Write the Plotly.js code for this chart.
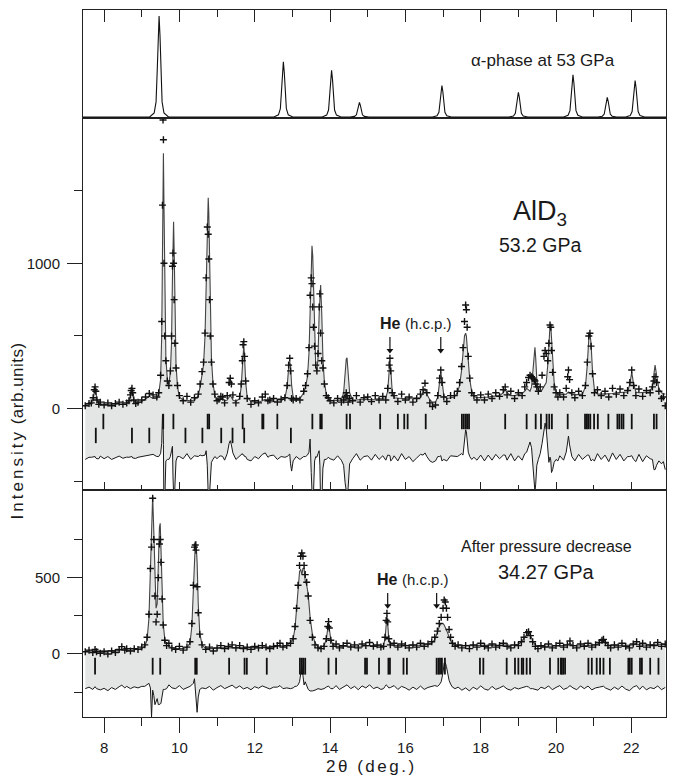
<!DOCTYPE html>
<html><head><meta charset="utf-8">
<script src="https://cdn.plot.ly/plotly-3.0.1.min.js"></script>
<style>html,body{margin:0;padding:0;background:#fff;} #chart{width:674px;height:781px;}</style>
</head><body><div id="chart"></div>
<script>
// ---------- DATA ----------
// Top panel: calculated alpha-phase pattern at 53 GPa (normalised intensity)
const topX = [7.44,
 9.21,9.33,9.38,9.41,9.435,9.46,9.485,9.51,9.54,9.59,9.71,
 12.51,12.63,12.68,12.71,12.735,12.76,12.785,12.81,12.84,12.89,13.01,
 13.79,13.91,13.96,13.99,14.015,14.04,14.065,14.09,14.12,14.17,14.29,
 14.53,14.65,14.70,14.73,14.755,14.78,14.805,14.83,14.86,14.91,15.03,
 16.72,16.84,16.89,16.92,16.945,16.97,16.995,17.02,17.05,17.10,17.22,
 18.75,18.87,18.92,18.95,18.975,19.0,19.025,19.05,19.08,19.13,19.25,
 20.20,20.32,20.37,20.40,20.425,20.45,20.475,20.50,20.53,20.58,20.70,
 21.11,21.23,21.28,21.31,21.335,21.36,21.385,21.41,21.44,21.49,21.61,
 21.85,21.97,22.02,22.05,22.075,22.1,22.125,22.15,22.18,22.23,22.35,
 22.92];
const topY = [0,
 0,0.04,0.15,0.45,0.8,1.0,0.8,0.45,0.15,0.04,0,
 0,0.022,0.082,0.246,0.438,0.547,0.438,0.246,0.082,0.022,0,
 0,0.019,0.069,0.208,0.37,0.463,0.37,0.208,0.069,0.019,0,
 0,0.006,0.022,0.065,0.115,0.144,0.115,0.065,0.022,0.006,0,
 0,0.012,0.047,0.14,0.25,0.312,0.25,0.14,0.047,0.012,0,
 0,0.01,0.037,0.11,0.196,0.245,0.196,0.11,0.037,0.01,0,
 0,0.017,0.063,0.189,0.335,0.419,0.335,0.189,0.063,0.017,0,
 0,0.008,0.029,0.088,0.156,0.195,0.156,0.088,0.029,0.008,0,
 0,0.014,0.054,0.163,0.29,0.362,0.29,0.163,0.054,0.014,0,
 0];

// Middle panel: AlD3 at 53.2 GPa
const midX = [
7.5,7.6,7.66,7.71,7.74,7.76,7.78,7.81,7.86,7.9,8.0,8.1,8.2,8.3,8.4,8.5,8.6,8.66,8.7,8.72,8.74,8.76,8.79,8.84,8.9,9.0,9.1,9.2,9.3,9.4,
9.45,9.5,9.53,9.55,9.565,9.575,9.59,9.61,9.64,9.68,9.72,9.76,9.79,9.815,9.83,9.845,9.86,9.88,9.91,9.95,10.0,
10.1,10.2,10.3,10.4,10.5,10.55,10.6,10.64,10.68,10.71,10.74,10.765,10.78,10.8,10.82,10.85,10.89,10.94,11.0,
11.05,11.1,11.15,11.2,11.27,11.32,11.35,11.38,11.42,11.5,11.6,11.64,11.67,11.69,11.71,11.73,11.76,11.8,11.9,12.0,12.1,12.2,12.28,12.35,12.4,
12.5,12.6,12.7,12.8,12.86,12.9,12.93,12.95,12.98,13.02,13.1,13.2,13.3,
13.35,13.4,13.44,13.47,13.5,13.52,13.54,13.56,13.59,13.62,13.65,13.68,13.71,13.73,13.75,13.78,13.81,13.85,13.9,13.95,14.0,
14.1,14.2,14.3,14.36,14.4,14.43,14.45,14.48,14.52,14.6,14.7,14.8,14.9,15.0,15.1,15.2,15.3,15.4,
15.48,15.53,15.57,15.59,15.61,15.65,15.7,15.8,15.9,16.0,16.1,16.2,16.3,16.4,16.47,16.52,16.57,16.65,16.72,16.8,16.86,16.91,16.94,16.97,17.02,17.1,17.2,
17.3,17.38,17.44,17.49,17.53,17.57,17.6,17.62,17.64,17.67,17.71,17.76,17.82,17.9,18.0,
18.1,18.2,18.3,18.4,18.5,18.6,18.65,18.7,18.8,18.9,19.0,19.1,19.17,
19.22,19.27,19.31,19.35,19.39,19.42,19.44,19.46,19.49,19.53,19.58,19.63,19.68,19.71,19.74,19.78,19.81,19.84,19.86,19.88,19.91,19.95,20.0,20.05,20.1,
20.2,20.27,20.31,20.33,20.36,20.42,20.5,20.6,20.7,20.78,20.83,20.87,20.9,20.93,20.97,21.02,21.1,21.2,
21.3,21.4,21.5,21.6,21.7,21.8,21.9,21.96,22.01,22.06,22.12,22.2,22.3,22.4,22.5,22.56,22.6,22.63,22.67,22.73,22.8,22.85,22.9];
const midObs = [
20,35,40,75,130,150,120,60,30,45,25,40,20,35,45,30,40,55,95,125,140,110,60,35,45,60,80,105,95,80,
110,230,600,1400,1985,1850,1000,500,330,190,160,260,500,980,1070,1000,750,450,280,160,90,
55,85,45,75,100,170,255,320,520,900,1250,1200,1030,750,500,320,170,100,55,
65,85,80,40,90,180,209,170,95,40,85,170,330,440,461,360,190,70,30,55,40,80,100,55,60,
70,45,65,75,160,300,347,260,70,60,70,60,120,
160,240,420,780,900,860,700,560,430,300,260,380,700,790,520,330,280,170,90,75,55,
40,70,45,60,80,110,90,45,70,55,90,45,75,80,50,90,60,85,
60,140,300,347,260,110,90,50,100,60,80,45,70,100,130,175,110,40,15,25,90,210,266,180,80,50,90,
90,120,180,290,420,600,713,680,560,360,210,110,90,60,95,
60,100,70,110,85,130,150,95,120,70,110,90,150,
180,215,230,220,210,200,190,170,150,120,150,230,360,400,380,330,450,576,560,400,250,150,110,80,110,
80,140,220,266,200,110,75,120,90,160,320,500,519,430,240,110,130,90,
120,80,140,100,135,90,125,180,266,160,90,135,85,125,110,150,190,220,180,120,70,80,20];
const midCalc = [
30,30,35,70,125,140,120,65,35,32,30,30,30,32,32,32,34,50,90,120,130,110,60,38,40,50,70,85,70,70,
100,200,500,1100,1700,1757,1400,800,350,200,170,250,450,900,1200,1286,1100,650,300,150,80,
60,55,55,60,90,150,240,300,500,850,1300,1451,1350,1000,650,350,180,90,60,
55,70,70,55,60,80,90,80,60,50,70,150,300,420,440,350,180,80,50,45,45,55,65,50,45,
50,55,55,70,150,280,320,300,160,80,60,70,110,
150,220,380,650,1000,1120,1050,800,450,290,255,350,650,840,851,650,350,180,100,70,60,
55,55,60,110,250,340,350,250,110,60,60,60,65,65,65,65,70,70,
75,120,280,330,280,120,75,70,70,70,70,70,70,75,110,140,100,60,45,45,80,200,250,200,90,70,75,
80,110,160,260,400,500,519,500,430,320,200,120,85,75,75,
80,80,85,85,90,110,130,110,90,90,95,105,120,
140,130,120,150,280,400,422,350,200,130,120,130,150,160,180,300,480,570,574,500,330,180,120,100,95,
95,100,110,115,110,100,95,95,100,150,300,480,519,450,250,130,100,100,
100,105,105,110,110,110,115,170,250,170,115,110,110,110,115,160,270,300,230,140,110,105,100];
const midTicksA = [7.98,9.57,9.84,10.75,10.79,11.68,12.20,12.23,12.60,13.53,13.74,13.78,14.44,14.53,15.33,15.80,15.97,16.06,16.54,17.50,17.55,17.60,17.64,17.69,18.65,19.22,19.46,19.60,19.75,19.82,19.89,20.31,20.77,20.82,20.86,20.91,21.01,21.11,21.39,21.63,21.68,21.74,21.79,22.01,22.60,22.67];
const midTicksB = [7.78,8.74,9.20,10.16,10.61,11.11,11.41,11.72,12.96];
const midHeArrows = [15.59, 16.94];

// Bottom panel: after pressure decrease, 34.27 GPa
const botX = [
7.5,7.6,7.7,7.76,7.8,7.9,8.0,8.1,8.2,8.3,8.4,8.47,8.55,8.6,8.7,8.8,8.9,9.0,
9.08,9.14,9.19,9.23,9.26,9.29,9.32,9.35,9.38,9.41,9.44,9.47,9.49,9.51,9.54,9.57,9.61,9.66,
9.72,9.8,9.9,10.0,10.1,10.2,10.28,10.33,10.37,10.4,10.42,10.44,10.47,10.5,10.54,10.6,10.7,
10.8,10.9,11.0,11.1,11.2,11.3,11.4,11.5,11.6,11.7,11.8,11.9,12.0,12.1,12.2,12.3,12.4,12.5,12.6,12.67,12.75,12.85,12.95,
13.02,13.07,13.11,13.15,13.19,13.22,13.25,13.28,13.31,13.34,13.38,13.42,13.47,13.53,13.6,13.68,
13.76,13.84,13.9,13.94,13.96,13.98,14.02,14.08,14.16,14.25,14.35,14.45,14.55,14.65,14.75,14.85,14.95,15.05,15.15,15.25,15.35,
15.42,15.46,15.49,15.51,15.53,15.56,15.6,15.7,15.8,15.9,16.0,
16.1,16.2,16.3,16.4,16.5,16.6,16.7,16.78,16.85,16.9,16.95,17.0,17.03,17.06,17.09,17.12,17.16,17.2,17.25,17.32,17.4,17.5,
17.6,17.7,17.8,17.9,18.0,18.1,18.2,18.3,18.4,18.5,18.6,18.7,18.8,18.9,19.0,19.08,19.15,19.22,19.27,19.32,19.38,19.45,19.52,19.6,
19.7,19.8,19.9,20.0,20.1,20.2,20.3,20.37,20.45,20.55,20.65,20.75,20.85,20.95,21.05,21.15,21.22,21.26,21.31,21.38,21.45,21.55,21.65,21.75,21.85,21.95,22.05,22.14,22.22,22.3,22.4,22.5,22.6,22.7,22.8,22.9];
const botObs = [
15,25,10,30,15,5,15,0,20,10,30,48,25,35,20,35,30,45,
60,110,260,560,700,1020,750,380,210,260,500,720,750,600,360,190,90,55,
70,40,30,50,25,45,80,200,450,700,714,680,440,270,130,60,30,
45,20,40,55,35,50,60,40,55,35,45,30,50,40,55,45,35,50,55,70,45,55,70,
100,180,300,450,580,640,661,640,580,520,470,380,220,110,60,40,
35,50,100,180,212,170,90,50,65,40,55,70,45,60,40,65,55,75,50,60,45,
50,110,220,266,210,100,60,70,45,65,55,
40,60,45,70,50,65,80,110,150,200,240,300,354,340,300,240,160,110,70,50,60,40,
55,35,60,45,70,50,40,65,45,55,70,50,40,60,55,80,110,140,146,120,80,50,35,55,
45,65,40,55,70,45,60,85,55,40,65,50,70,45,60,75,90,96,75,55,40,60,45,70,50,40,65,80,50,70,45,60,55,75,50,65];
const botCalc = [
20,20,20,22,20,18,18,18,18,20,22,30,25,25,25,28,30,35,
50,90,230,560,890,1035,800,490,300,330,610,830,856,700,400,200,100,60,
50,40,35,35,35,45,70,180,420,640,714,740,600,330,140,60,35,
35,35,38,40,40,42,42,42,42,42,42,42,42,42,42,42,42,45,50,55,50,55,75,
100,170,290,430,540,555,520,560,561,480,450,390,240,130,75,45,
45,55,95,170,200,165,95,55,50,50,50,50,50,50,52,52,55,55,55,55,55,
55,100,200,250,200,100,58,55,55,55,55,
55,55,55,58,60,62,70,95,140,180,200,200,190,175,160,140,110,85,65,55,55,55,
55,55,55,55,57,57,55,55,55,55,57,57,55,58,62,80,105,130,140,125,85,60,50,50,
50,52,52,52,55,55,60,70,55,52,52,55,58,58,60,70,80,85,75,60,55,55,55,58,58,58,60,65,60,58,58,58,60,62,62,62];
const botTicks = [7.76,9.29,9.49,10.42,10.46,11.32,11.73,11.79,12.32,13.20,13.25,13.29,13.34,13.96,14.16,14.93,14.98,15.30,15.55,15.59,15.95,16.04,16.83,16.88,16.92,16.97,17.05,17.98,18.07,18.69,18.91,19.00,19.09,19.13,19.22,19.31,19.84,20.06,20.13,20.15,20.19,20.24,20.86,20.95,21.08,21.17,21.26,21.43,21.92,21.96,22.01,22.23,22.28,22.50,22.72];
const botHeArrows = [15.53, 16.83];

// ---------- PLACEMENT CONSTANTS ----------
const MID_DIFF_OFFSET = -339, BOT_DIFF_OFFSET = -222;
const MID_ROW_A = -88, MID_ROW_B = -184, BOT_ROW = -80;
const MID_ARROW = [493, 400], BOT_ARROW = [400, 316]; // tail, head (axis units)
const XR = [7.44, 22.92];
const FONT = 'Liberation Sans, Arial, Helvetica, sans-serif';
const INK = '#1a1a1a';

function panel(xa, ya, xs, obs, calc, off) {
  const diff = obs.map((o, i) => o - calc[i] + off);
  return [
    {x: xs, y: calc, xaxis: xa, yaxis: ya, type: 'scatter', mode: 'lines',
     line: {color: '#444', width: 1.1}, hoverinfo: 'skip'},
    {x: xs, y: diff, xaxis: xa, yaxis: ya, type: 'scatter', mode: 'lines',
     line: {color: INK, width: 1}, fill: 'tonexty', fillcolor: '#e4e5e5', hoverinfo: 'skip'},
    {x: xs, y: obs, xaxis: xa, yaxis: ya, type: 'scatter', mode: 'markers',
     marker: {symbol: 'cross-thin', size: 5, color: '#111', line: {color: '#111', width: 1.4}}, hoverinfo: 'skip'}
  ];
}
function tickRow(xa, ya, vals, yv, size) {
  return {x: vals, y: vals.map(() => yv), xaxis: xa, yaxis: ya, type: 'scatter', mode: 'markers',
    marker: {symbol: 'line-ns', size: size, color: '#111', line: {color: '#111', width: 1.8}}, hoverinfo: 'skip'};
}
function arrows(xa, ya, xs, ty) {
  const lx = [], ly = [];
  xs.forEach(v => { lx.push(v, v, null); ly.push(ty[0], ty[1], null); });
  return [
    {x: lx, y: ly, xaxis: xa, yaxis: ya, type: 'scatter', mode: 'lines', line: {color: '#111', width: 1.2}, hoverinfo: 'skip'},
    {x: xs, y: xs.map(() => ty[1]), xaxis: xa, yaxis: ya, type: 'scatter', mode: 'markers',
     marker: {symbol: 'triangle-down', size: 6, color: '#111'}, hoverinfo: 'skip'}
  ];
}

const traces = [
  {x: topX, y: topY, xaxis: 'x3', yaxis: 'y3', type: 'scatter', mode: 'lines',
   line: {color: '#111', width: 1.1}, hoverinfo: 'skip'},
  ...panel('x2', 'y2', midX, midObs, midCalc, MID_DIFF_OFFSET),
  tickRow('x2', 'y2', midTicksA, MID_ROW_A, 11),
  tickRow('x2', 'y2', midTicksB, MID_ROW_B, 11),
  ...arrows('x2', 'y2', midHeArrows, MID_ARROW),
  ...panel('x', 'y', botX, botObs, botCalc, BOT_DIFF_OFFSET),
  tickRow('x', 'y', botTicks, BOT_ROW, 12),
  ...arrows('x', 'y', botHeArrows, BOT_ARROW)
];

const frame = {showline: true, linecolor: '#222', linewidth: 1, mirror: true, showgrid: false, zeroline: false};
const tk = {tickcolor: '#222', tickwidth: 1};

const layout = {
  width: 674, height: 781,
  margin: {l: 83, r: 8, t: 10, b: 64, pad: 0},
  paper_bgcolor: '#fff', plot_bgcolor: '#fff',
  showlegend: false,
  font: {family: FONT, color: INK, size: 14},
  xaxis: Object.assign({}, frame, tk, {anchor: 'y', range: XR, tick0: 0, dtick: 2, ticks: 'outside', ticklen: 15,
    minor: {tick0: 0, dtick: 1, ticks: 'outside', ticklen: 8, tickcolor: '#222', tickwidth: 1},
    tickfont: {size: 15, family: FONT, color: INK}, ticklabelstandoff: 2}),
  xaxis4: Object.assign({}, tk, {overlaying: 'x', anchor: 'y', side: 'top', matches: 'x', range: XR,
    tick0: 0, dtick: 2, ticks: 'inside', ticklen: 8, showticklabels: false, showline: false, showgrid: false, zeroline: false,
    minor: {tick0: 0, dtick: 1, ticks: 'inside', ticklen: 5, tickcolor: '#222', tickwidth: 1}}),
  xaxis2: Object.assign({}, frame, tk, {anchor: 'y2', matches: 'x', range: XR, tick0: 0, dtick: 2, ticks: 'inside', ticklen: 8,
    showticklabels: false, minor: {tick0: 0, dtick: 1, ticks: 'inside', ticklen: 5, tickcolor: '#222', tickwidth: 1}}),
  xaxis3: Object.assign({}, frame, tk, {anchor: 'y3', side: 'top', matches: 'x', range: XR, tick0: 0, dtick: 2, ticks: 'inside', ticklen: 12,
    showticklabels: false, minor: {tick0: 0, dtick: 1, ticks: 'inside', ticklen: 7, tickcolor: '#222', tickwidth: 1}}),
  yaxis: Object.assign({}, frame, tk, {domain: [0, 0.3211], anchor: 'x', range: [-412.6, 1074],
    tickmode: 'array', tickvals: [0, 500], ticks: 'outside', ticklen: 15,
    minor: {tickmode: 'array', tickvals: [-250, 250, 750], ticks: 'outside', ticklen: 8, tickcolor: '#222', tickwidth: 1},
    tickfont: {size: 15, family: FONT, color: INK}, ticklabelstandoff: 4}),
  yaxis2: Object.assign({}, frame, tk, {domain: [0.3211, 0.8472], anchor: 'x2', range: [-559, 1999],
    tickmode: 'array', tickvals: [0, 1000], ticks: 'outside', ticklen: 15,
    minor: {tickmode: 'array', tickvals: [-500, 500, 1500], ticks: 'outside', ticklen: 8, tickcolor: '#222', tickwidth: 1},
    tickfont: {size: 15, family: FONT, color: INK}, ticklabelstandoff: 4}),
  yaxis3: Object.assign({}, frame, {domain: [0.8472, 1], anchor: 'x3', range: [-0.01, 1.06], ticks: '', showticklabels: false}),
  annotations: [
    {xref: 'x3', yref: 'y3', x: 19.66, y: 0.56, text: 'α-phase at 53 GPa', showarrow: false, font: {size: 17}},
    {xref: 'x2', yref: 'y2', x: 19.58, y: 1346, text: 'AlD<sub>3</sub>', showarrow: false, font: {size: 27}},
    {xref: 'x2', yref: 'y2', x: 19.6, y: 1126, text: '53.2 GPa', showarrow: false, font: {size: 19.5}},
    {xref: 'x2', yref: 'y2', x: 15.28, y: 589, xanchor: 'left', text: '<b>He</b> <span style="font-size:15px">(h.c.p.)</span>', showarrow: false, font: {size: 16}},
    {xref: 'x', yref: 'y', x: 19.74, y: 703, text: 'After pressure decrease', showarrow: false, font: {size: 16}},
    {xref: 'x', yref: 'y', x: 19.74, y: 537, text: '34.27 GPa', showarrow: false, font: {size: 20}},
    {xref: 'x', yref: 'y', x: 15.2, y: 485, xanchor: 'left', text: '<b>He</b> <span style="font-size:15px">(h.c.p.)</span>', showarrow: false, font: {size: 16}},
    {xref: 'paper', yref: 'paper', x: -0.1132, y: 0.404, xanchor: 'center', yanchor: 'middle', textangle: -90, showarrow: false,
     text: '<span style="letter-spacing:3px">Intensity</span> <span style="letter-spacing:0.5px">(arb.units)</span>', font: {size: 17}},
    {xref: 'paper', yref: 'paper', x: 0.495, y: -0.0707, xanchor: 'center', yanchor: 'middle', showarrow: false,
     text: '<span style="letter-spacing:2.5px">2θ (deg.)</span>', font: {size: 17}}
  ]
};

Plotly.newPlot('chart', traces, layout, {staticPlot: true, displayModeBar: false});
</script></body></html>
